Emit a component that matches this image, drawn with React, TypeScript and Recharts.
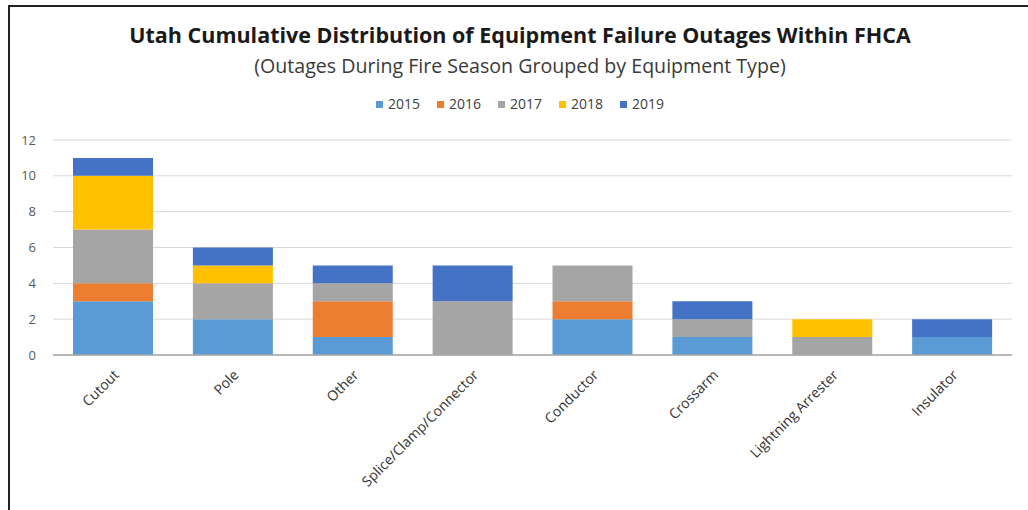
import { BarChart, Bar, XAxis, YAxis, CartesianGrid } from "recharts";

const categories = [
  "Cutout",
  "Pole",
  "Other",
  "Splice/Clamp/Connector",
  "Conductor",
  "Crossarm",
  "Lightning Arrester",
  "Insulator",
];

const y2015 = [3, 2, 1, 0, 2, 1, 0, 1];
const y2016 = [1, 0, 2, 0, 1, 0, 0, 0];
const y2017 = [3, 2, 1, 3, 2, 1, 1, 0];
const y2018 = [3, 1, 0, 0, 0, 0, 1, 0];
const y2019 = [1, 1, 1, 2, 0, 1, 0, 1];

const yTicks = [0, 2, 4, 6, 8, 10, 12];

const series = [
  { key: "2015", values: y2015, color: "#5B9BD5" },
  { key: "2016", values: y2016, color: "#ED7D31" },
  { key: "2017", values: y2017, color: "#A5A5A5" },
  { key: "2018", values: y2018, color: "#FFC000" },
  { key: "2019", values: y2019, color: "#4472C4" },
];

const data = categories.map((name, i) => {
  const row: Record<string, string | number> = { name };
  series.forEach((s) => {
    row[s.key] = s.values[i];
  });
  return row;
});

const FONT = "'Open Sans', sans-serif";

const AngledTick = (props: any) => {
  const { x, y, payload } = props;
  return (
    <g transform={`translate(${x + 4},${y + 10})`}>
      <text
        textAnchor="end"
        transform="rotate(-45)"
        fontSize={14}
        fontFamily={FONT}
        fill="#333"
        dy={4}
      >
        {payload.value}
      </text>
    </g>
  );
};

export default function App() {
  return (
    <div
      style={{
        position: "absolute",
        left: 0,
        top: 0,
        width: 1028,
        height: 510,
        background: "#fff",
        fontFamily: FONT,
      }}
    >
      <div
        style={{
          position: "absolute",
          left: 8,
          top: 5,
          right: 0,
          bottom: 0,
          borderTop: "2px solid #222",
          borderLeft: "2px solid #222",
        }}
      />
      <div
        style={{
          position: "absolute",
          left: 10,
          width: 1020,
          top: 20,
          textAlign: "center",
          fontSize: 21.5,
          fontWeight: 700,
          color: "#1a1a1a",
        }}
      >
        Utah Cumulative Distribution of Equipment Failure Outages Within FHCA
      </div>
      <div
        style={{
          position: "absolute",
          left: 10,
          width: 1020,
          top: 52,
          textAlign: "center",
          fontSize: 19.6,
          color: "#3a3a3a",
        }}
      >
        (Outages During Fire Season Grouped by Equipment Type)
      </div>
      <div
        style={{
          position: "absolute",
          left: 10,
          width: 1020,
          top: 94,
          display: "flex",
          justifyContent: "center",
          gap: 17,
          fontSize: 14,
          color: "#404040",
          lineHeight: "20px",
        }}
      >
        {series.map((s) => (
          <div key={s.key} style={{ display: "flex", alignItems: "center" }}>
            <span
              style={{ width: 7, height: 7, background: s.color, marginRight: 5, display: "inline-block" }}
            />
            {s.key}
          </div>
        ))}
      </div>
      <div style={{ position: "absolute", left: 0, top: 0 }}>
        <BarChart
          width={1028}
          height={510}
          data={data}
          barCategoryGap="16.7%"
          margin={{ top: 140, right: 16, bottom: 0, left: 0 }}
        >
          <CartesianGrid vertical={false} stroke="#D9D9D9" />
          <XAxis
            dataKey="name"
            interval={0}
            tickLine={false}
            axisLine={{ stroke: "#A6A6A6", strokeWidth: 1.5 }}
            tick={<AngledTick />}
            height={155}
          />
          <YAxis
            ticks={yTicks}
            domain={[0, 12]}
            width={53}
            tickSize={0}
            tickMargin={17}
            axisLine={false}
            tickLine={false}
            tick={{ fill: "#595959", fontSize: 13, fontFamily: FONT }}
          />
          {series.map((s) => (
            <Bar
              key={s.key}
              dataKey={s.key}
              stackId="a"
              fill={s.color}
              isAnimationActive={false}
            />
          ))}
        </BarChart>
      </div>
    </div>
  );
}
